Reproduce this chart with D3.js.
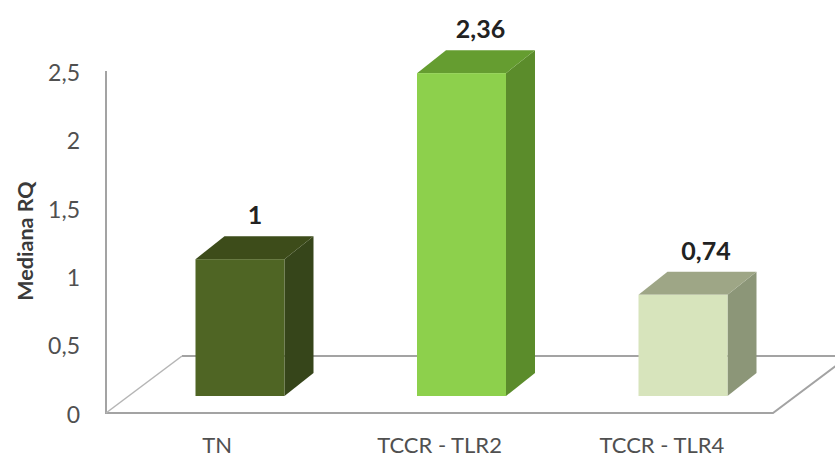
<!DOCTYPE html>
<html>
<head>
<meta charset="utf-8">
<script src="https://cdnjs.cloudflare.com/ajax/libs/d3/7.8.5/d3.min.js"></script>
<style>
html,body{margin:0;padding:0;background:#fff}
svg{display:block}
text{font-family:Lato,"Open Sans",sans-serif}
</style>
</head>
<body>
<script>
// Median RQ per group
const categories = ["TN", "TCCR - TLR2", "TCCR - TLR4"];
const values = [1, 2.36, 0.74];
const valueLabels = ["1", "2,36", "0,74"];
const yTicks = [0, 0.5, 1, 1.5, 2, 2.5];
const frontColors = ["#4f6524", "#8dd04c", "#d7e4bc"];
const topColors = ["#3d4c1a", "#659d30", "#9ea686"];
const sideColors = ["#36451a", "#5b8c2b", "#8c9678"];

const width = 835, height = 458;
// Plot frame: front floor edge and the oblique depth of the 3D box
const frame = {left: 106, right: 773, bottom: 413, top: 71};
const depth = {dx: 76, dy: -57};
const barDepth = {dx: 29, dy: -23};
const barLift = 17;

const svg = d3.select("body").append("svg").attr("width", width).attr("height", height);

const x = d3.scaleBand().domain(categories).range([frame.left, frame.right]);
const y = d3.scaleLinear().domain([0, 2.5]).range([frame.bottom, frame.top]);
// Bars stand further back on the floor than the axis labels, value labels spread a little wider
const barX = d3.scalePoint().domain(categories).range([240, 683]);
const labelX = d3.scalePoint().domain(categories).range([255, 706]);
const barWidth = 89;

// Floor and walls
const wall = "#a3a3a3";
const floor = d3.line();
svg.append("path")
  .attr("d", floor([
    [frame.left + depth.dx, frame.bottom + depth.dy],
    [width, frame.bottom + depth.dy]
  ]))
  .attr("fill", "none").attr("stroke", wall).attr("stroke-width", 2);
svg.append("path")
  .attr("d", floor([
    [frame.left, frame.top],
    [frame.left, frame.bottom],
    [frame.right, frame.bottom],
    [frame.right + depth.dx, frame.bottom + depth.dy]
  ]))
  .attr("fill", "none").attr("stroke", wall).attr("stroke-width", 2);
svg.append("path")
  .attr("d", floor([
    [frame.left, frame.bottom],
    [frame.left + depth.dx, frame.bottom + depth.dy]
  ]))
  .attr("fill", "none").attr("stroke", "#b5b5b5").attr("stroke-width", 1.5);

// Value axis
const yAxis = svg.append("g")
  .attr("transform", `translate(${frame.left},2)`)
  .call(d3.axisLeft(y).tickValues(yTicks).tickSize(0).tickPadding(26)
    .tickFormat(d => String(d).replace(".", ",")));
yAxis.select(".domain").remove();
yAxis.selectAll("text").attr("font-size", 23).attr("fill", "#505050")
  .style("font-family", "Lato,sans-serif");

// Category axis
const xAxis = svg.append("g")
  .attr("transform", `translate(0,${frame.bottom})`)
  .call(d3.axisBottom(x).tickSize(0).tickPadding(24));
xAxis.select(".domain").remove();
xAxis.selectAll("text").attr("font-size", 22).attr("fill", "#505050")
  .style("font-family", "Lato,sans-serif");

// Axis title
svg.append("text")
  .attr("transform", "translate(33,241) rotate(-90)")
  .attr("text-anchor", "middle")
  .attr("font-size", 21.5).attr("font-weight", 700).attr("fill", "#3a3a3a")
  .text("Mediana RQ");

// Bars: front, top and side faces
const bars = svg.append("g").selectAll("g")
  .data(categories.map((c, i) => ({c, i, v: values[i], label: valueLabels[i]})))
  .join("g");

const left = d => barX(d.c) - barWidth / 2;
const base = frame.bottom - barLift;
const topY = d => y(d.v) - barLift;

bars.append("path").attr("fill", d => sideColors[d.i])
  .attr("d", d => floor([
    [left(d) + barWidth, base],
    [left(d) + barWidth + barDepth.dx, base + barDepth.dy],
    [left(d) + barWidth + barDepth.dx, topY(d) + barDepth.dy],
    [left(d) + barWidth, topY(d)]
  ]) + "Z");
bars.append("path").attr("fill", d => topColors[d.i])
  .attr("d", d => floor([
    [left(d), topY(d)],
    [left(d) + barDepth.dx, topY(d) + barDepth.dy],
    [left(d) + barWidth + barDepth.dx, topY(d) + barDepth.dy],
    [left(d) + barWidth, topY(d)]
  ]) + "Z");
bars.append("rect").attr("fill", d => frontColors[d.i])
  .attr("x", left).attr("y", topY)
  .attr("width", barWidth).attr("height", d => base - topY(d));

// Value labels above each bar
bars.append("text")
  .attr("x", d => labelX(d.c))
  .attr("y", d => topY(d) + barDepth.dy - 12)
  .attr("text-anchor", "middle")
  .attr("font-size", 25).attr("font-weight", 700).attr("fill", "#222")
  .text(d => d.label);
</script>
</body>
</html>
